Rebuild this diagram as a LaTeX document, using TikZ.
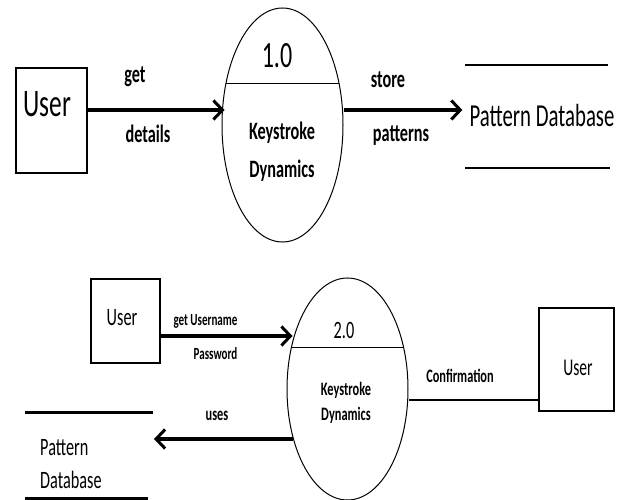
\documentclass[tikz,border=0pt]{standalone}
\usepackage{fontspec}
\setmainfont[FakeStretch=0.65]{Carlito}
\usetikzlibrary{shapes.geometric,arrows.meta,calc}
\newcommand{\fs}[1]{\fontsize{#1}{#1}\selectfont}
\begin{document}
\begin{tikzpicture}[x=1pt,y=-1pt,
  box/.style={draw, line width=1.3pt, inner sep=0pt},
  proc/.style={draw, ellipse, line width=1pt, inner sep=0pt},
  txt/.style={inner sep=0pt, anchor=base},
  arr/.style={line width=3.5pt, -{Straight Barb[length=9pt,width=19pt,line width=3pt]}},
  flow/.style={line width=2.5pt},
  storeline/.style={line width=1.3pt},
  storethick/.style={line width=3pt}]
\useasboundingbox (0,0) rectangle (622,500);

% ---------- top diagram ----------
\node[box, minimum width=71pt, minimum height=105pt] (u1) at (51.5,120.5) {};
\node[txt] (u1t) at (47.5,117) {\fs{39}User};
\node[proc, minimum width=121pt, minimum height=234pt] (e1) at (282.5,125) {};
\draw[line width=1pt] ($(e1.center)+(-56.7,-41)$) -- ($(e1.center)+(56.7,-41)$);
\node[txt] (e1n) at (277,68) {\fs{37}1.0};
\node[txt] (e1a) at (282,140) {\fs{25}\bfseries Keystroke};
\node[txt] (e1b) at (282,178) {\fs{25}\bfseries Dynamics};

\node[txt] (pd1) at (542,127) {\fs{32}Pattern Database};
\draw[storeline] (465,65) -- (608,65);
\draw[storeline] (465,168) -- (610,168);

\draw[arr, shorten >=-3pt] ([yshift=10.5pt]u1.east) -- ([yshift=10.5pt]u1.east -| e1.west);
\node[txt] (l1) at (135,83) {\fs{25}\bfseries get};
\node[txt] (l2) at (148,143) {\fs{25}\bfseries details};

\draw[arr, shorten >=7pt] ([yshift=15pt]e1.east) -- ([yshift=15pt]e1.east -| pd1.west);
\node[txt] (l3) at (388,88) {\fs{25}\bfseries store};
\node[txt] (l4) at (401,142) {\fs{25}\bfseries patterns};

% ---------- bottom diagram ----------
\node[box, minimum width=69pt, minimum height=84pt] (u2) at (125.5,321) {};
\node[txt] (u2t) at (122,325) {\fs{25}User};
\node[proc, minimum width=121pt, minimum height=222pt] (e2) at (347.5,389) {};
\draw[line width=1pt] ($(e2.center)+(-56,-42)$) -- ($(e2.center)+(56,-42)$);
\node[txt] (e2n) at (344,338) {\fs{25}2.0};
\node[txt] (e2a) at (346,395) {\fs{19}\bfseries Keystroke};
\node[txt] (e2b) at (346,420) {\fs{19}\bfseries Dynamics};

\draw[arr, shorten >=-6pt] ([yshift=-15pt]u2.east) -- ([yshift=-15pt]u2.east -| e2.west);
\node[txt] (l5) at (205.5,325) {\fs{17}\bfseries get Username};
\node[txt] (l6) at (215.5,359) {\fs{17}\bfseries Password};

\node[box, minimum width=75pt, minimum height=103pt] (u3) at (576.5,359.5) {};
\node[txt] (u3t) at (578,375) {\fs{24}User};
\draw[flow] ([yshift=-40.5pt]u3.west) -- ([yshift=-40.5pt]u3.west -| e2.east);
\node[txt] (l7) at (460,382) {\fs{19}\bfseries Confirmation};

\node[txt, anchor=base west] (pd2a) at (40,455) {\fs{25}Pattern};
\node[txt, anchor=base west] (pd2b) at (40,488) {\fs{25}Database};
\draw[storethick] (25,412) -- (153,412);
\draw[storethick] (25,498) -- (148,498);
\coordinate (pd2tip) at (154,439);
\draw[arr, shorten <=-6.5pt] (pd2tip -| e2.west) -- (pd2tip);
\node[txt] (l8) at (217,420) {\fs{19}\bfseries uses};
\end{tikzpicture}
\end{document}
